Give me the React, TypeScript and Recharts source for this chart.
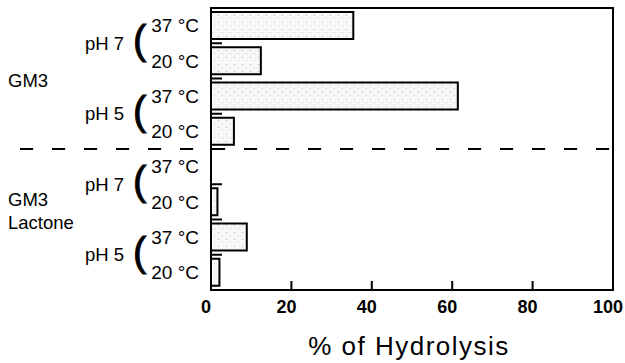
import React from 'react';
import { BarChart, Bar, XAxis, YAxis, ReferenceLine, ReferenceArea } from 'recharts';

// one row per bar, top to bottom
const temps = ['37 °C', '20 °C', '37 °C', '20 °C', '37 °C', '20 °C', '37 °C', '20 °C'];
const hydrolysis = [35.4, 12.4, 61.4, 5.7, 0, 1.6, 8.9, 2.1];
// pH pairs cover two rows, compounds four
const phGroups = ['pH 7', 'pH 5', 'pH 7', 'pH 5'];
const compounds = [['GM3'], ['GM3', 'Lactone']];
const xTicks = [0, 20, 40, 60, 80, 100];

const rows = hydrolysis.map((value, i) => ({ pos: i, temp: temps[i], value }));
const rowTicks = rows.map((r) => r.pos);
// label axis: row centres plus the boundaries between rows
const labelTicks = [...rowTicks, ...rowTicks.slice(0, -1).map((p) => p + 0.5)].sort((a, b) => a - b);

const font = '"Liberation Sans", Arial, Helvetica, sans-serif';

const LabelTick = (props: any) => {
  const { x, y, payload } = props;
  const v = payload.value as number;
  if (Number.isInteger(v)) {
    return (
      <text x={x - 12} y={y} dy="0.36em" textAnchor="end" fontSize={19} fill="#000" fontFamily={font}>
        {temps[v]}
      </text>
    );
  }
  const k = Math.round(v - 0.5);
  const ph = k % 2 === 0 ? phGroups[k / 2] : null;
  const comp = k % 4 === 1 ? compounds[(k - 1) / 4] : null;
  return (
    <g>
      <line x1={x} x2={x + 11} y1={y} y2={y} stroke="#000" strokeWidth={2} />
      {ph && (
        <>
          <text x={x - 87} y={y} dy="0.36em" textAnchor="end" fontSize={18.5} fill="#000" fontFamily={font}>
            {ph}
          </text>
          <text
            x={x - 78}
            y={y}
            dy="0.27em"
            textAnchor="start"
            fontSize={40}
            fill="#000"
            stroke="#000"
            strokeWidth={1}
            fontFamily={font}
          >
            (
          </text>
        </>
      )}
      {comp &&
        comp.map((line, i) => (
          <text
            key={line + i}
            x={8}
            y={y + (comp.length === 1 ? 1.5 : -20) + i * 23}
            dy="0.36em"
            textAnchor="start"
            fontSize={18.5}
            fill="#000"
            fontFamily={font}
          >
            {line}
          </text>
        ))}
    </g>
  );
};

const XTick = (props: any) => {
  const { x, y, payload } = props;
  const v = payload.value as number;
  return (
    <g>
      {v > 0 && v < 100 && <line x1={x} x2={x} y1={y} y2={y - 9} stroke="#000" strokeWidth={2} />}
      <text x={x - 5} y={y + 10} dy="0.72em" textAnchor="middle" fontSize={18} fontWeight="bold" fill="#000" fontFamily={font}>
        {v}
      </text>
    </g>
  );
};

export default function App() {
  const domain: [number, number] = [-0.5, rows.length - 0.5];
  return (
    <div style={{ width: 625, height: 363, background: '#fff' }}>
      <style>{'body { margin: 0; }'}</style>
      <BarChart
        width={625}
        height={363}
        data={rows}
        layout="vertical"
        margin={{ top: 8, right: 12, left: 0, bottom: 0 }}
      >
        <defs>
          <pattern id="stipple" width="8" height="7" patternUnits="userSpaceOnUse">
            <rect width="8" height="7" fill="#f7f7f7" />
            <rect x="2" y="1" width="1" height="1" fill="#b4b4b4" />
            <rect x="6" y="4" width="1" height="1" fill="#d0d0d0" />
          </pattern>
        </defs>
        <XAxis
          type="number"
          dataKey="value"
          domain={[0, 100]}
          ticks={xTicks}
          axisLine={false}
          tickLine={false}
          tickSize={0}
          tickMargin={0}
          tick={<XTick />}
          height={73}
          label={{
            value: '% of Hydrolysis',
            position: 'insideBottom',
            offset: 8,
            dx: -3,
            fontSize: 26,
            letterSpacing: 1.5,
            fill: '#000',
            fontFamily: font,
          }}
        />
        <YAxis
          yAxisId="bars"
          type="number"
          dataKey="pos"
          domain={domain}
          allowDataOverflow
          ticks={rowTicks}
          width={0}
          hide
        />
        <YAxis
          yAxisId="labels"
          type="number"
          dataKey="pos"
          domain={domain}
          allowDataOverflow
          ticks={labelTicks}
          interval={0}
          width={211}
          axisLine={false}
          tickLine={false}
          tickSize={0}
          tickMargin={0}
          tick={<LabelTick />}
        />
        <Bar
          yAxisId="bars"
          dataKey="value"
          barSize={27}
          fill="url(#stipple)"
          stroke="#000"
          strokeWidth={2}
          isAnimationActive={false}
        />
        <ReferenceArea
          yAxisId="bars"
          x1={0}
          x2={100}
          y1={-0.5}
          y2={rows.length - 0.5}
          fill="none"
          stroke="#000"
          strokeWidth={2}
          fillOpacity={0}
          ifOverflow="visible"
        />
        <ReferenceLine
          yAxisId="bars"
          segment={[{ x: -47.5, y: 3.5 }, { x: 100, y: 3.5 }]}
          stroke="#000"
          strokeWidth={2}
          strokeDasharray="13 19"
          ifOverflow="visible"
        />
      </BarChart>
    </div>
  );
}
